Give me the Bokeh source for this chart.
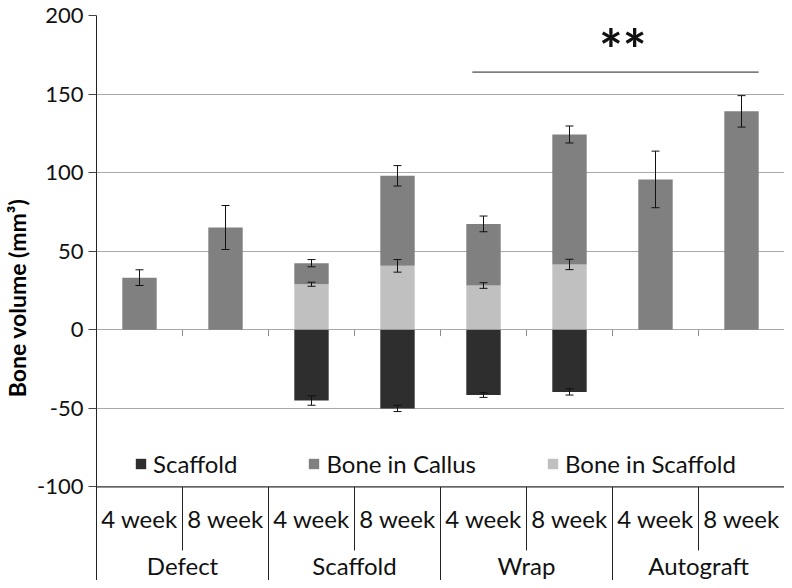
from bokeh.plotting import figure
from bokeh.models import (ColumnDataSource, Range1d, FixedTicker, Whisker, TeeHead,
                          Legend, LegendItem)
from bokeh.embed import file_html
from bokeh.resources import INLINE
from bokeh.core.properties import value

# ---------------- data ----------------
groups = ["Defect", "Scaffold", "Wrap", "Autograft"]
weeks = ["4 week", "8 week"]
scaffold_volume = [0, 0, 45, 50, 41.5, 39.5, 0, 0]          # plotted downward
scaffold_err = [0, 0, 3, 2, 1.5, 2, 0, 0]
bone_in_scaffold = [0, 0, 29, 40.7, 28.2, 41.6, 0, 0]
bone_in_scaffold_err = [0, 0, 1.3, 4, 1.8, 3.3, 0, 0]
bone_in_callus = [33.2, 65.1, 13.4, 57.3, 39.2, 82.7, 95.7, 139]
total_err = [5, 14, 2.3, 6.5, 5, 5.4, 18, 10]
y_ticks = [-100, -50, 0, 50, 100, 150, 200]
sig_from, sig_to, sig_label = 4, 7, "**"   # category indices compared

FONT = "Lato"
C_SCAF, C_CALLUS, C_BIS = "#2e2e2e", "#808080", "#c0c0c0"

n = len(groups) * len(weeks)
xs = [i + 0.5 for i in range(n)]
bis_top = bone_in_scaffold
callus_top = [a + b for a, b in zip(bone_in_scaffold, bone_in_callus)]
scaf_bottom = [-v for v in scaffold_volume]

src = ColumnDataSource(dict(x=xs, bis=bis_top, ctop=callus_top, sbot=scaf_bottom,
                            zero=[0] * n))

Y_MIN, Y_MAX = -159.5, 200
p = figure(width=784, height=580, output_backend="svg", toolbar_location=None,
           x_range=Range1d(0, n), y_range=Range1d(Y_MIN, Y_MAX),
           x_axis_location=None, min_border_left=95, min_border_right=0,
           min_border_top=15, min_border_bottom=0)
p.outline_line_color = None
p.xgrid.visible = False
p.ygrid.ticker = FixedTicker(ticks=y_ticks)
p.ygrid.grid_line_color = "#a8a8a8"
p.ygrid.grid_line_width = 1

ax = p.yaxis[0]
ax.ticker = FixedTicker(ticks=y_ticks)
ax.major_label_overrides = {t: str(t) for t in y_ticks}
ax.axis_label = "Bone volume (mm³)"
ax.axis_label_text_font = FONT
ax.axis_label_text_font_style = "bold"
ax.axis_label_text_font_size = "23px"
ax.axis_label_text_color = "#000000"
ax.axis_label_standoff = 3
ax.major_label_text_font = FONT
ax.major_label_text_font_size = "22px"
ax.major_label_text_color = "#111111"
ax.major_label_standoff = 5
ax.major_tick_out = 8
ax.major_tick_in = 0
ax.minor_tick_out = 0
ax.minor_tick_in = 0
ax.axis_line_color = "#222222"
ax.major_tick_line_color = "#444444"

# bars
r_bis = p.vbar(x="x", width=0.4, bottom="zero", top="bis", source=src,
               fill_color=C_BIS, line_color=None)
r_cal = p.vbar(x="x", width=0.4, bottom="bis", top="ctop", source=src,
               fill_color=C_CALLUS, line_color=None)
r_scf = p.vbar(x="x", width=0.4, bottom="sbot", top="zero", source=src,
               fill_color=C_SCAF, line_color=None)

# error bars
def add_whisker(centers, errs):
    idx = [i for i in range(n) if errs[i] > 0]
    s = ColumnDataSource(dict(x=[xs[i] for i in idx],
                              lo=[centers[i] - errs[i] for i in idx],
                              hi=[centers[i] + errs[i] for i in idx]))
    w = Whisker(base="x", lower="lo", upper="hi", source=s, dimension="height",
                line_color="#111111", line_width=1, level="overlay",
                upper_head=TeeHead(size=8, line_color="#111111", line_width=1),
                lower_head=TeeHead(size=8, line_color="#111111", line_width=1))
    p.add_layout(w)

add_whisker(callus_top, total_err)
add_whisker(bis_top, bone_in_scaffold_err)
add_whisker(scaf_bottom, scaffold_err)

# zero line tick marks
p.segment(x0=list(range(1, n)), y0=[0] * (n - 1), x1=list(range(1, n)), y1=[-4] * (n - 1),
          line_color="#8c8c8c", line_width=1)

# category axis below -100
p.segment(x0=[0], y0=[-100], x1=[n], y1=[-100], line_color="#222222", line_width=1)
sub_sep = [2 * g + 1 for g in range(len(groups))]
p.segment(x0=sub_sep, y0=[-100] * len(sub_sep), x1=sub_sep, y1=[-140.4] * len(sub_sep),
          line_color="#222222", line_width=1)
grp_sep = [2 * g for g in range(1, len(groups) + 1)]
p.segment(x0=grp_sep, y0=[-100] * len(grp_sep), x1=grp_sep, y1=[Y_MIN] * len(grp_sep),
          line_color="#222222", line_width=1)
p.text(x=xs, y=[-120] * n, text=[weeks[i % 2] for i in range(n)],
       text_font=value(FONT), text_font_size="24px", text_align="center",
       text_baseline="middle", text_color="#111111")
p.text(x=[2 * g + 1 for g in range(len(groups))], y=[-150] * len(groups), text=groups,
       text_font=value(FONT), text_font_size="24px", text_align="center",
       text_baseline="middle", text_color="#111111")

# significance annotation
sig_x0, sig_x1 = sig_from + 0.37, sig_to + 0.70
p.segment(x0=[sig_x0], y0=[164], x1=[sig_x1], y1=[164],
          line_color="#222222", line_width=1)
p.text(x=[(sig_x0 + sig_x1) / 2 + 0.085], y=[179], text=[sig_label],
       text_font=value(FONT), text_font_size="56px", text_font_style="bold",
       text_align="center", text_baseline="alphabetic", text_color="#111111")

# legend
legend = Legend(items=[LegendItem(label="Scaffold", renderers=[r_scf]),
                       LegendItem(label="Bone in Callus", renderers=[r_cal]),
                       LegendItem(label="Bone in Scaffold", renderers=[r_bis])],
                orientation="horizontal", location=(38, 102),
                glyph_width=13, glyph_height=13, label_standoff=6, spacing=70,
                padding=0, margin=0, border_line_color=None,
                background_fill_alpha=0,
                label_text_font=FONT, label_text_font_size="24px",
                label_text_color="#111111")
p.add_layout(legend)

open("out.html", "w").write(file_html(p, INLINE))
